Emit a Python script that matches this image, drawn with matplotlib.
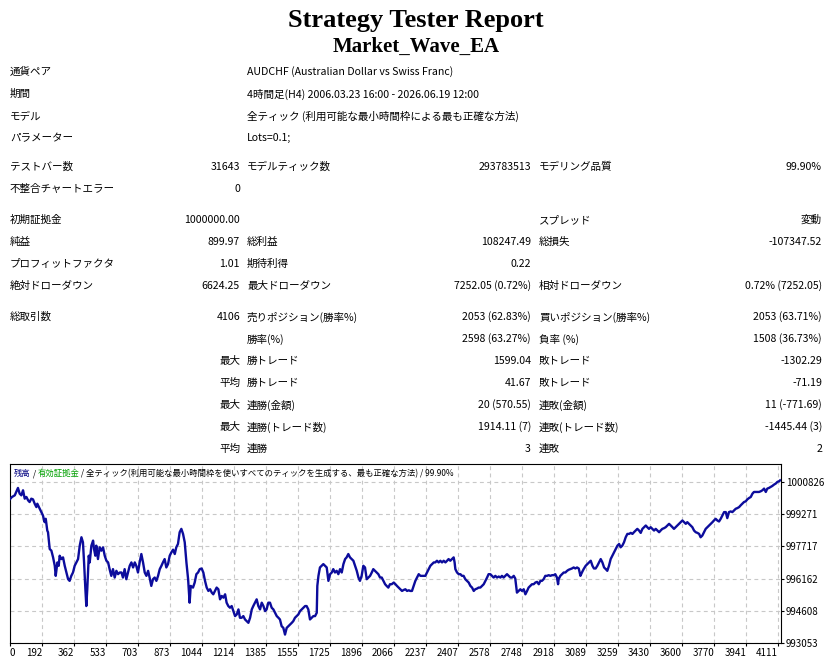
import matplotlib
matplotlib.use('Agg')
import matplotlib.pyplot as plt

plt.rcParams['font.family'] = ['Noto Sans CJK JP', 'DejaVu Sans']

W, H = 832, 664

title = 'Strategy Tester Report'
subtitle = 'Market_Wave_EA'

# 上部の情報
info_labels = ['通貨ペア', '期間', 'モデル', 'パラメーター']
info_values = ['AUDCHF (Australian Dollar vs Swiss Franc)',
               '4時間足(H4) 2006.03.23 16:00 - 2026.06.19 12:00',
               '全ティック (利用可能な最小時間枠による最も正確な方法)',
               'Lots=0.1;']

# 統計表 (ラベル1, 値1, ラベル2, 値2, ラベル3, 値3)
stat_rows = [
    ('テストバー数', '31643', 'モデルティック数', '293783513', 'モデリング品質', '99.90%'),
    ('不整合チャートエラー', '0', '', '', '', ''),
    ('初期証拠金', '1000000.00', '', '', 'スプレッド', '変動'),
    ('純益', '899.97', '総利益', '108247.49', '総損失', '-107347.52'),
    ('プロフィットファクタ', '1.01', '期待利得', '0.22', '', ''),
    ('絶対ドローダウン', '6624.25', '最大ドローダウン', '7252.05 (0.72%)', '相対ドローダウン', '0.72% (7252.05)'),
    ('総取引数', '4106', '売りポジション(勝率%)', '2053 (62.83%)', '買いポジション(勝率%)', '2053 (63.71%)'),
    ('', '', '勝率(%)', '2598 (63.27%)', '負率 (%)', '1508 (36.73%)'),
    ('', '最大', '勝トレード', '1599.04', '敗トレード', '-1302.29'),
    ('', '平均', '勝トレード', '41.67', '敗トレード', '-71.19'),
    ('', '最大', '連勝(金額)', '20 (570.55)', '連敗(金額)', '11 (-771.69)'),
    ('', '最大', '連勝(トレード数)', '1914.11 (7)', '連敗(トレード数)', '-1445.44 (3)'),
    ('', '平均', '連勝', '3', '連敗', '2'),
]

# 残高カーブ (取引番号, 残高)
trades = [22, 32, 47, 55, 64, 73, 82, 91, 100, 109, 118, 126, 135, 144, 153, 162, 167, 180, 189, 197,
          206, 212, 220, 224, 233, 242, 251, 260, 265, 274, 281, 286, 295, 304, 313, 322, 331, 339, 348, 357,
          366, 375, 384, 393, 402, 410, 416, 423, 428, 433, 441, 446, 455, 464, 469, 476, 481, 490, 499, 508,
          517, 526, 535, 544, 552, 561, 570, 579, 588, 597, 606, 615, 623, 632, 641, 650, 659, 668, 677, 686,
          694, 703, 712, 721, 730, 739, 748, 757, 765, 774, 783, 792, 801, 810, 819, 828, 836, 845, 854, 863,
          872, 881, 890, 899, 907, 916, 925, 934, 943, 952, 961, 970, 978, 984, 996, 1005, 1014, 1023, 1032,
          1042, 1051, 1060, 1069, 1078, 1087, 1096, 1104, 1113, 1122, 1131, 1140, 1149, 1158, 1167, 1175,
          1184, 1193, 1202, 1211, 1220, 1229, 1238, 1246, 1255, 1264, 1273, 1282, 1291, 1300, 1309, 1317,
          1326, 1335, 1344, 1353, 1362, 1371, 1380, 1388, 1397, 1406, 1415, 1424, 1433, 1442, 1451, 1459,
          1468, 1477, 1486, 1495, 1504, 1513, 1522, 1530, 1539, 1548, 1557, 1566, 1575, 1584, 1593, 1601,
          1610, 1619, 1628, 1637, 1646, 1655, 1658, 1664, 1672, 1681, 1690, 1699, 1708, 1717, 1726, 1735,
          1743, 1752, 1761, 1770, 1779, 1788, 1797, 1806, 1814, 1823, 1832, 1841, 1850, 1859, 1868, 1877,
          1885, 1894, 1903, 1912, 1921, 1930, 1939, 1948, 1956, 1965, 1974, 1983, 1992, 2001, 2010, 2019,
          2027, 2036, 2045, 2054,
          2065, 2074, 2082, 2091, 2100, 2109, 2118, 2127, 2136, 2145, 2153, 2162, 2171, 2180, 2189, 2198,
          2207, 2215, 2224, 2233, 2242, 2251, 2260, 2269, 2278, 2286, 2295, 2304, 2313, 2322, 2331, 2340,
          2349, 2357, 2366, 2375, 2384, 2389, 2393, 2402, 2411, 2420, 2428, 2437, 2446, 2455, 2464, 2473,
          2482, 2491, 2499, 2508, 2517, 2526, 2535, 2544, 2553, 2562, 2570, 2579, 2588, 2597, 2606, 2615,
          2624, 2633, 2641, 2650, 2659, 2668, 2677, 2686, 2695, 2704, 2712, 2718, 2721, 2730, 2739, 2748,
          2757, 2766, 2775, 2783, 2792, 2801, 2810, 2819, 2828, 2837, 2846, 2854, 2863, 2872, 2881, 2890,
          2899, 2908, 2917, 2925, 2934, 2940, 2943, 2952, 2961, 2970, 2979, 2988, 2996, 3005, 3014, 3023,
          3032, 3041, 3050, 3059, 3067, 3076,
          3087, 3096, 3105, 3114, 3123, 3131, 3140, 3149, 3158, 3167, 3176, 3185, 3194, 3202, 3211, 3220,
          3229, 3238, 3247, 3256, 3265, 3273, 3282, 3291, 3300, 3309, 3318, 3327, 3336, 3344, 3353, 3362,
          3371, 3380, 3389, 3398, 3407, 3415, 3424, 3433, 3442, 3451, 3460, 3469, 3478, 3486, 3495, 3504,
          3513, 3522, 3531, 3540, 3549, 3557, 3566, 3575, 3584, 3593, 3602, 3611, 3620, 3628, 3637, 3646,
          3655, 3664, 3673, 3682, 3691, 3699, 3708, 3717, 3726, 3735, 3744, 3753, 3762, 3770, 3779, 3788,
          3797, 3806, 3815, 3824, 3833, 3841, 3850, 3859, 3868, 3877, 3886, 3895, 3904, 3912, 3921, 3930,
          3939, 3948, 3957, 3966, 3975, 3983, 3992, 4001, 4010, 4019, 4028, 4037, 4046, 4054, 4063, 4072,
          4081, 4090, 4099, 4108, 4117, 4122]
balance = [1000000, 1000098, 1000179, 1000341, 1000535, 1000260, 1000179, 1000422, 1000017, 1000098,
           999936, 999855, 1000017, 999985, 999774, 999612, 999774, 999531, 999369, 999208,
           998884, 999046, 998479, 998398, 997589, 997508, 997184, 996779, 996293, 996941,
           996779, 997265, 997103, 997184, 996779, 996455, 996131, 996051, 996293, 996455,
           996779, 996941, 997103, 997750, 998155, 997912, 996941, 995646, 994836, 995646,
           997265, 996941, 997750, 997993, 997589, 997265, 997750, 997103, 997670, 997508,
           997670, 997265, 997022, 996941, 996617, 996293, 996617, 996212, 996536, 996374,
           996455, 996455, 996212, 996617, 996131, 996455, 996779, 996941, 996698, 996941,
           996779, 996455, 996941, 997346, 996941, 996455, 996293, 996536, 996212, 995808,
           996131, 996212, 996051, 996293, 996617, 996779, 996941, 997103, 996698, 996860,
           997265, 997427, 997556, 997346, 997670, 997831, 998398, 998560, 998317, 997912,
           996941, 996131, 994998, 995808, 995727, 995970, 996374, 996455, 996617,
           996650, 996455, 996051, 995727, 995565, 995646, 995484, 995403, 995565, 995727,
           995646, 995160, 995322, 995241, 995403, 994998, 994836, 994755, 994836, 994593,
           994351, 994432, 994674, 994270, 994270, 994351, 994189, 994108, 994027, 994270,
           994674, 994836, 994998, 995160, 994836, 994674, 994998, 994836, 994593, 994674,
           994998, 994998, 994755, 994674, 994512, 994351, 994270, 994189, 993865, 993784,
           993460, 993784, 993865, 993946, 994027, 994108, 994270, 994351, 994432, 994593,
           994674, 994755, 994836, 994836, 994674, 994189, 994270, 994351, 994351, 994512,
           995808, 996293, 996698, 996779, 996860, 996779, 996698, 996051, 996374, 996455,
           996617, 996455, 996536, 996374, 996617, 996455, 996860, 997103, 997184, 997346,
           997184, 997103, 997022, 996779, 996536, 996212, 996051, 996293, 996779, 996698,
           996131, 996212, 996293, 996455, 996617, 996536, 996455, 996374, 996212, 996212,
           996051, 995889, 995808, 995727, 995889, 995889,
           995970, 995889, 995808, 995727, 995646, 995565, 995613, 995646, 995565, 995597,
           995565, 995565, 995808, 996051, 996212, 996374, 996293, 996293, 996293, 996293,
           996455, 996617, 996779, 996860, 996941, 996941, 997022, 996941, 997022, 996941,
           997022, 996941, 997022, 997103, 997022, 997103, 997184, 996941, 996617, 996455,
           996374, 996374, 996293, 996293, 996131, 996051, 995970, 995808, 995727, 995565,
           995646, 995678, 995727, 995727, 995808, 995889, 996051, 996212, 996374, 996374,
           996293, 996212, 996293, 996212, 996261, 996212, 996293, 996212, 996293, 996374,
           996293, 996212, 996212, 996293, 996164, 995727, 995484, 995565, 995646, 995565,
           995646, 995403, 995565, 995727, 995808, 995889, 995889, 995970, 996002, 995889,
           996051, 996051, 996131, 996293, 996293, 996326, 996293, 996326, 996326, 996374,
           996212, 995889, 996131, 996293, 996374, 996455, 996455, 996536, 996585, 996617,
           996650, 996698, 996650, 996698, 996650, 996293, 996455, 996617,
           996779, 996860, 996941, 997022, 996779, 996650, 996650, 996779, 996941, 997103,
           996941, 996698, 996617, 996536, 996779, 997103, 997265, 997427, 997589, 997750,
           997831, 997670, 997750, 997912, 998155, 998317, 998317, 998366, 998317, 998398,
           998479, 998560, 998479, 998366, 998560, 998641, 998722, 998641, 998560, 998641,
           998560, 998479, 998560, 998479, 998398, 998479, 998560, 998592, 998641, 998722,
           998803, 998722, 998641, 998560, 998641, 998722, 998803, 998884, 998965, 998884,
           998803, 998884, 998803, 998722, 998641, 998479, 998398, 998366, 998317, 998155,
           998236, 998398, 998560, 998641, 998722, 998803, 998884, 998965, 999046, 998965,
           998916, 999046, 999208, 999369, 999369, 999078, 999369, 999402, 999369, 999450,
           999531, 999564, 999612, 999693, 999774, 999855, 999888, 999985, 1000049, 1000098,
           1000260, 1000341, 1000341, 1000341, 1000341, 1000373, 1000422, 1000503, 1000341, 1000503,
           1000535, 1000584, 1000632, 1000697, 1000746, 1000827, 1000859, 1000900]

x_tick_labels = ['0', '192', '362', '533', '703', '873', '1044', '1214', '1385', '1555', '1725',
                 '1896', '2066', '2237', '2407', '2578', '2748', '2918', '3089', '3259', '3430',
                 '3600', '3770', '3941', '4111']
y_ticks = [993053, 994608, 996162, 997717, 999271, 1000826]

header_parts = [('残高', '#000080'), (' / ', 'black'), ('有効証拠金', '#00a000'),
                (' / 全ティック(利用可能な最小時間枠を使いすべてのティックを生成する、最も正確な方法) / 99.90%', 'black')]


def fx(x):
    return x / W


def fy(y):
    return 1 - y / H


fig = plt.figure(figsize=(W / 100, H / 100), dpi=100)

# タイトル
fig.text(fx(416), fy(20), title, family='Liberation Serif', weight='bold', size=19, ha='center', va='center')
fig.text(fx(416), fy(47), subtitle, family='Liberation Serif', weight='bold', size=15, ha='center', va='center')

fs = 7.6
info_y = [72, 94, 116, 138]
for lab, val, y in zip(info_labels, info_values, info_y):
    fig.text(fx(10), fy(y), lab, ha='left', va='center', size=fs)
    fig.text(fx(247), fy(y), val, ha='left', va='center', size=fs)

stat_y = [167, 189, 220, 242, 264, 286, 317, 339, 361, 383, 405, 427, 449]
for (l1, v1, l2, v2, l3, v3), y in zip(stat_rows, stat_y):
    fig.text(fx(10), fy(y), l1, ha='left', va='center', size=fs)
    fig.text(fx(240), fy(y), v1, ha='right', va='center', size=fs)
    fig.text(fx(247), fy(y), l2, ha='left', va='center', size=fs)
    fig.text(fx(531), fy(y), v2, ha='right', va='center', size=fs)
    fig.text(fx(539), fy(y), l3, ha='left', va='center', size=fs)
    fig.text(fx(822), fy(y), v3, ha='right', va='center', size=fs)

# チャート
ax = fig.add_axes([fx(10), fy(643), (781 - 10) / W, (643 - 464) / H])
ax.plot(trades, balance, color='#0c0c9c', lw=1.7, zorder=3)
x_left = 21.6
ax.set_xlim(x_left, 4127)
ax.set_ylim(993053, 1001690)

ax.yaxis.tick_right()
ax.set_yticks(y_ticks)
ax.set_yticklabels([str(v) for v in y_ticks])
ax.set_xticks([x_left] + [int(s) for s in x_tick_labels[1:]])
ax.set_xticklabels(x_tick_labels)
for i, lab in enumerate(ax.get_xticklabels()):
    lab.set_ha('left' if i == 0 else 'right')
ax.tick_params(length=2, width=0.8, pad=1.5, labelsize=7, direction='out')
ax.grid(True, color='#c8c8c8', lw=0.8, ls=(0, (3.5, 3)))
for sp in ax.spines.values():
    sp.set_linewidth(0.8)

prev = ax.text(0.005, 0.972, header_parts[0][0], transform=ax.transAxes, color=header_parts[0][1],
               size=6, ha='left', va='top', zorder=4)
for txt, col in header_parts[1:]:
    prev = ax.annotate(txt, xy=(1, 0), xycoords=prev, ha='left', va='bottom', color=col, size=6, zorder=4)

fig.savefig('out.png', dpi=100)
